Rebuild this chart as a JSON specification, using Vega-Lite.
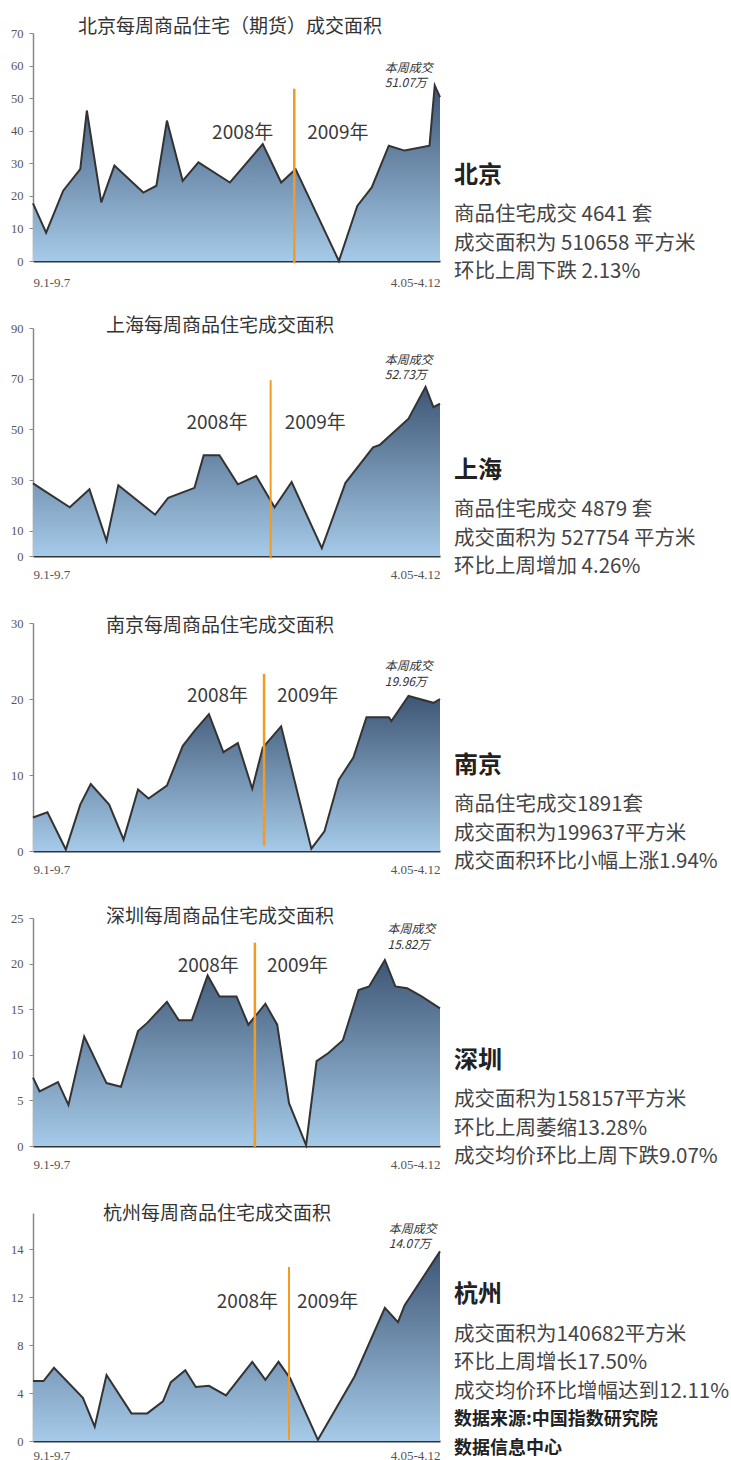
{
  "$schema": "https://vega.github.io/schema/vega-lite/v6.json",
  "background": "white",
  "padding": {"left": 0, "top": 18, "right": 0, "bottom": 0},
  "spacing": 10,
  "config": {
    "view": {"stroke": null},
    "axisX": {"labelExpr": "datum.value == 0 ? '9.1-9.7' : '4.05-4.12'", "labelFlush": true, "ticks": false, "domainColor": "#333", "domainWidth": 2, "labelPadding": 12, "labelFontSize": 13, "labelColor": "#555", "labelFont": "Liberation Serif", "grid": false, "title": null, "labelOverlap": false},
    "axisY": {"domainColor": "#888", "domainWidth": 1.5, "ticks": true, "tickSize": 4, "tickColor": "#888", "labelPadding": 6, "labelFont": "Liberation Serif", "labelFontSize": 12.5, "labelColor": "#555", "grid": false, "title": null, "minExtent": 33, "maxExtent": 33, "labelOverlap": false},
    "area": {"opacity": 1},
    "text": {"font": "Noto Sans CJK SC"}
  },
  "datasets": {
    "bj": [
      {"week": 0, "area": 17.7}, {"week": 1.0, "area": 8.7}, {"week": 2.3, "area": 21.6}, {"week": 3.6, "area": 28.2},
      {"week": 4.1, "area": 46.2}, {"week": 5.2, "area": 18.0}, {"week": 6.2, "area": 29.3}, {"week": 8.4, "area": 21.0},
      {"week": 9.4, "area": 23.1}, {"week": 10.2, "area": 43.1}, {"week": 11.4, "area": 24.6}, {"week": 12.6, "area": 30.3},
      {"week": 15.0, "area": 24.1}, {"week": 17.5, "area": 35.9}, {"week": 18.9, "area": 24.1}, {"week": 20.0, "area": 28.2},
      {"week": 23.3, "area": 0}, {"week": 24.7, "area": 16.9}, {"week": 25.8, "area": 22.6}, {"week": 27.1, "area": 35.4},
      {"week": 28.3, "area": 33.9}, {"week": 30.2, "area": 35.4}, {"week": 30.6, "area": 53.9}, {"week": 31, "area": 50.3}
    ],
    "sh": [
      {"week": 0, "area": 28.7}, {"week": 2.8, "area": 19.2}, {"week": 4.3, "area": 26.3}, {"week": 5.6, "area": 6.0},
      {"week": 6.5, "area": 27.9}, {"week": 9.3, "area": 16.3}, {"week": 10.3, "area": 23.0}, {"week": 12.3, "area": 26.9},
      {"week": 13.0, "area": 39.8}, {"week": 14.2, "area": 39.8}, {"week": 15.6, "area": 28.3}, {"week": 17.0, "area": 31.6},
      {"week": 18.4, "area": 19.2}, {"week": 19.7, "area": 29.2}, {"week": 22.0, "area": 3.1}, {"week": 23.8, "area": 28.9},
      {"week": 25.9, "area": 42.9}, {"week": 26.4, "area": 43.8}, {"week": 28.6, "area": 54.2}, {"week": 29.9, "area": 66.8},
      {"week": 30.5, "area": 58.8}, {"week": 31, "area": 60.1}
    ],
    "nj": [
      {"week": 0, "area": 4.4}, {"week": 1.1, "area": 5.1}, {"week": 2.5, "area": 0.2}, {"week": 3.6, "area": 6.1},
      {"week": 4.4, "area": 8.8}, {"week": 5.8, "area": 6.1}, {"week": 6.9, "area": 1.5}, {"week": 8.0, "area": 8.1},
      {"week": 8.8, "area": 6.9}, {"week": 10.2, "area": 8.6}, {"week": 11.4, "area": 13.8}, {"week": 12.3, "area": 15.8},
      {"week": 13.4, "area": 18.0}, {"week": 14.5, "area": 13.0}, {"week": 15.6, "area": 14.2}, {"week": 16.7, "area": 8.2},
      {"week": 17.5, "area": 13.6}, {"week": 18.9, "area": 16.4}, {"week": 21.2, "area": 0.3}, {"week": 22.2, "area": 2.6},
      {"week": 23.3, "area": 9.4}, {"week": 24.4, "area": 12.3}, {"week": 25.4, "area": 17.6}, {"week": 27.1, "area": 17.6},
      {"week": 27.3, "area": 17.1}, {"week": 28.6, "area": 20.4}, {"week": 30.5, "area": 19.5}, {"week": 31, "area": 20.0}
    ],
    "sz": [
      {"week": 0, "area": 7.5}, {"week": 0.5, "area": 6.0}, {"week": 1.9, "area": 7.0}, {"week": 2.7, "area": 4.5},
      {"week": 3.9, "area": 12.0}, {"week": 5.6, "area": 6.9}, {"week": 6.7, "area": 6.5}, {"week": 8.0, "area": 12.6},
      {"week": 8.7, "area": 13.5}, {"week": 10.2, "area": 15.8}, {"week": 11.1, "area": 13.8}, {"week": 12.1, "area": 13.8},
      {"week": 13.3, "area": 18.7}, {"week": 14.2, "area": 16.4}, {"week": 15.5, "area": 16.4}, {"week": 16.4, "area": 13.3},
      {"week": 17.7, "area": 15.6}, {"week": 18.6, "area": 13.3}, {"week": 19.5, "area": 4.7}, {"week": 20.8, "area": 0.1},
      {"week": 21.6, "area": 9.3}, {"week": 22.5, "area": 10.2}, {"week": 23.6, "area": 11.6}, {"week": 24.8, "area": 17.1},
      {"week": 25.6, "area": 17.5}, {"week": 26.8, "area": 20.4}, {"week": 27.6, "area": 17.5}, {"week": 28.5, "area": 17.3},
      {"week": 29.6, "area": 16.4}, {"week": 31, "area": 15.1}
    ],
    "hz": [
      {"week": 0, "area": 5.0}, {"week": 0.8, "area": 5.0}, {"week": 1.6, "area": 6.1}, {"week": 3.8, "area": 3.6},
      {"week": 4.7, "area": 1.2}, {"week": 5.6, "area": 5.5}, {"week": 7.5, "area": 2.3}, {"week": 8.7, "area": 2.3},
      {"week": 9.9, "area": 3.3}, {"week": 10.5, "area": 4.9}, {"week": 11.6, "area": 5.9}, {"week": 12.4, "area": 4.5},
      {"week": 13.4, "area": 4.6}, {"week": 14.7, "area": 3.8}, {"week": 16.7, "area": 6.6}, {"week": 17.7, "area": 5.1},
      {"week": 18.7, "area": 6.6}, {"week": 19.6, "area": 5.2}, {"week": 21.7, "area": 0.1}, {"week": 24.5, "area": 5.4},
      {"week": 26.8, "area": 11.1}, {"week": 27.8, "area": 9.9}, {"week": 28.3, "area": 11.3}, {"week": 31, "area": 15.8}
    ],
    "bj_text": [
      {"role": "city", "line": 0, "text": "北京"},
      {"role": "info", "line": 1, "text": "商品住宅成交 4641 套"},
      {"role": "info", "line": 2, "text": "成交面积为 510658 平方米"},
      {"role": "info", "line": 3, "text": "环比上周下跌 2.13%"}
    ],
    "sh_text": [
      {"role": "city", "line": 0, "text": "上海"},
      {"role": "info", "line": 1, "text": "商品住宅成交 4879 套"},
      {"role": "info", "line": 2, "text": "成交面积为 527754 平方米"},
      {"role": "info", "line": 3, "text": "环比上周增加 4.26%"}
    ],
    "nj_text": [
      {"role": "city", "line": 0, "text": "南京"},
      {"role": "info", "line": 1, "text": "商品住宅成交1891套"},
      {"role": "info", "line": 2, "text": "成交面积为199637平方米"},
      {"role": "info", "line": 3, "text": "成交面积环比小幅上涨1.94%"}
    ],
    "sz_text": [
      {"role": "city", "line": 0, "text": "深圳"},
      {"role": "info", "line": 1, "text": "成交面积为158157平方米"},
      {"role": "info", "line": 2, "text": "环比上周萎缩13.28%"},
      {"role": "info", "line": 3, "text": "成交均价环比上周下跌9.07%"}
    ],
    "hz_text": [
      {"role": "city", "line": 0, "text": "杭州"},
      {"role": "info", "line": 1, "text": "成交面积为140682平方米"},
      {"role": "info", "line": 2, "text": "环比上周增长17.50%"},
      {"role": "info", "line": 3, "text": "成交均价环比增幅达到12.11%"},
      {"role": "source", "line": 4, "text": "数据来源:中国指数研究院"},
      {"role": "source", "line": 5, "text": "数据信息中心"}
    ]
  },
  "hconcat": [
    {
      "bounds": "flush",
      "spacing": 67,
      "vconcat": [
        {
          "width": 407, "height": 228,
          "layer": [
            {"data": {"name": "bj"}, "mark": {"type": "area", "opacity": 1, "color": {"gradient": "linear", "x1": 0, "y1": 1, "x2": 0, "y2": 0, "stops": [{"offset": 0, "color": "#a6cae9"}, {"offset": 1, "color": "#3e5675"}]}, "line": {"color": "#333", "strokeWidth": 2}},
             "encoding": {"x": {"field": "week", "type": "quantitative", "scale": {"domain": [0, 31], "nice": false, "zero": false}, "axis": {"values": [0, 31], "labelPadding": 15}},
                          "y": {"field": "area", "type": "quantitative", "scale": {"domain": [0, 70], "nice": false}, "axis": {"values": [0, 10, 20, 30, 40, 50, 60, 70], "labelOverlap": false, "tickCount": 8}}}},
            {"data": {"values": [{}]}, "mark": {"type": "rule", "color": "#f39a21", "strokeWidth": 2.5}, "encoding": {"x": {"datum": 19.9}, "y": {"datum": 52.9}, "y2": {"datum": -0.7}}},
            {"data": {"values": [{}]}, "mark": {"type": "text", "text": "北京每周商品住宅（期货）成交面积", "align": "center", "baseline": "middle", "dx": -6.5, "dy": -6, "fontSize": 19, "color": "#333"}, "encoding": {"x": {"datum": 15.5}, "y": {"datum": 70}}},
            {"data": {"values": [{}]}, "mark": {"type": "text", "text": "2008年", "align": "right", "baseline": "middle", "dx": -21, "fontSize": 19, "color": "#3a3a3a"}, "encoding": {"x": {"datum": 19.9}, "y": {"datum": 39.3}}},
            {"data": {"values": [{}]}, "mark": {"type": "text", "text": "2009年", "align": "left", "baseline": "middle", "dx": 13, "fontSize": 19, "color": "#3a3a3a"}, "encoding": {"x": {"datum": 19.9}, "y": {"datum": 39.3}}},
            {"data": {"values": [{}]}, "mark": {"type": "text", "text": ["本周成交", "51.07万"], "align": "left", "baseline": "top", "fontSize": 12, "fontStyle": "italic", "lineHeight": 15, "color": "#333"}, "encoding": {"x": {"datum": 26.8}, "y": {"datum": 60.8}}}
          ]
        },
        {
          "width": 407, "height": 228,
          "layer": [
            {"data": {"name": "sh"}, "mark": {"type": "area", "opacity": 1, "color": {"gradient": "linear", "x1": 0, "y1": 1, "x2": 0, "y2": 0, "stops": [{"offset": 0, "color": "#a6cae9"}, {"offset": 1, "color": "#3e5675"}]}, "line": {"color": "#333", "strokeWidth": 2}},
             "encoding": {"x": {"field": "week", "type": "quantitative", "scale": {"domain": [0, 31], "nice": false, "zero": false}, "axis": {"values": [0, 31]}},
                          "y": {"field": "area", "type": "quantitative", "scale": {"domain": [0, 90], "nice": false}, "axis": {"values": [0, 10, 30, 50, 70, 90]}}}},
            {"data": {"values": [{}]}, "mark": {"type": "rule", "color": "#f39a21", "strokeWidth": 2}, "encoding": {"x": {"datum": 18.1}, "y": {"datum": 69.4}, "y2": {"datum": -0.9}}},
            {"data": {"values": [{}]}, "mark": {"type": "text", "text": "上海每周商品住宅成交面积", "align": "center", "baseline": "middle", "dx": -16.5, "dy": -2, "fontSize": 19, "color": "#333"}, "encoding": {"x": {"datum": 15.5}, "y": {"datum": 90}}},
            {"data": {"values": [{}]}, "mark": {"type": "text", "text": "2008年", "align": "right", "baseline": "middle", "dx": -23, "fontSize": 19, "color": "#3a3a3a"}, "encoding": {"x": {"datum": 18.1}, "y": {"datum": 52.6}}},
            {"data": {"values": [{}]}, "mark": {"type": "text", "text": "2009年", "align": "left", "baseline": "middle", "dx": 14, "fontSize": 19, "color": "#3a3a3a"}, "encoding": {"x": {"datum": 18.1}, "y": {"datum": 52.6}}},
            {"data": {"values": [{}]}, "mark": {"type": "text", "text": ["本周成交", "52.73万"], "align": "left", "baseline": "top", "fontSize": 12, "fontStyle": "italic", "lineHeight": 15, "color": "#333"}, "encoding": {"x": {"datum": 26.8}, "y": {"datum": 79.5}}}
          ]
        },
        {
          "width": 407, "height": 228,
          "layer": [
            {"data": {"name": "nj"}, "mark": {"type": "area", "opacity": 1, "color": {"gradient": "linear", "x1": 0, "y1": 1, "x2": 0, "y2": 0, "stops": [{"offset": 0, "color": "#a6cae9"}, {"offset": 1, "color": "#3e5675"}]}, "line": {"color": "#333", "strokeWidth": 2}},
             "encoding": {"x": {"field": "week", "type": "quantitative", "scale": {"domain": [0, 31], "nice": false, "zero": false}, "axis": {"values": [0, 31]}},
                          "y": {"field": "area", "type": "quantitative", "scale": {"domain": [0, 30], "nice": false}, "axis": {"values": [0, 10, 20, 30]}}}},
            {"data": {"values": [{}]}, "mark": {"type": "rule", "color": "#f39a21", "strokeWidth": 2.5}, "encoding": {"x": {"datum": 17.6}, "y": {"datum": 23.3}, "y2": {"datum": 0.7}}},
            {"data": {"values": [{}]}, "mark": {"type": "text", "text": "南京每周商品住宅成交面积", "align": "center", "baseline": "middle", "dx": -16.5, "dy": 2.5, "fontSize": 19, "color": "#333"}, "encoding": {"x": {"datum": 15.5}, "y": {"datum": 30}}},
            {"data": {"values": [{}]}, "mark": {"type": "text", "text": "2008年", "align": "right", "baseline": "middle", "dx": -16, "fontSize": 19, "color": "#3a3a3a"}, "encoding": {"x": {"datum": 17.6}, "y": {"datum": 20.4}}},
            {"data": {"values": [{}]}, "mark": {"type": "text", "text": "2009年", "align": "left", "baseline": "middle", "dx": 13, "fontSize": 19, "color": "#3a3a3a"}, "encoding": {"x": {"datum": 17.6}, "y": {"datum": 20.4}}},
            {"data": {"values": [{}]}, "mark": {"type": "text", "text": ["本周成交", "19.96万"], "align": "left", "baseline": "top", "fontSize": 12, "fontStyle": "italic", "lineHeight": 16, "color": "#333"}, "encoding": {"x": {"datum": 26.8}, "y": {"datum": 25.0}}}
          ]
        },
        {
          "width": 407, "height": 228,
          "layer": [
            {"data": {"name": "sz"}, "mark": {"type": "area", "opacity": 1, "color": {"gradient": "linear", "x1": 0, "y1": 1, "x2": 0, "y2": 0, "stops": [{"offset": 0, "color": "#a6cae9"}, {"offset": 1, "color": "#3e5675"}]}, "line": {"color": "#333", "strokeWidth": 2}},
             "encoding": {"x": {"field": "week", "type": "quantitative", "scale": {"domain": [0, 31], "nice": false, "zero": false}, "axis": {"values": [0, 31]}},
                          "y": {"field": "area", "type": "quantitative", "scale": {"domain": [0, 25], "nice": false}, "axis": {"values": [0, 5, 10, 15, 20, 25]}}}},
            {"data": {"values": [{}]}, "mark": {"type": "rule", "color": "#f39a21", "strokeWidth": 2.5}, "encoding": {"x": {"datum": 16.9}, "y": {"datum": 22.3}, "y2": {"datum": -0.1}}},
            {"data": {"values": [{}]}, "mark": {"type": "text", "text": "深圳每周商品住宅成交面积", "align": "center", "baseline": "middle", "dx": -16.5, "dy": -1.5, "fontSize": 19, "color": "#333"}, "encoding": {"x": {"datum": 15.5}, "y": {"datum": 25}}},
            {"data": {"values": [{}]}, "mark": {"type": "text", "text": "2008年", "align": "right", "baseline": "middle", "dx": -16, "fontSize": 19, "color": "#3a3a3a"}, "encoding": {"x": {"datum": 16.9}, "y": {"datum": 19.7}}},
            {"data": {"values": [{}]}, "mark": {"type": "text", "text": "2009年", "align": "left", "baseline": "middle", "dx": 12, "fontSize": 19, "color": "#3a3a3a"}, "encoding": {"x": {"datum": 16.9}, "y": {"datum": 19.7}}},
            {"data": {"values": [{}]}, "mark": {"type": "text", "text": ["本周成交", "15.82万"], "align": "left", "baseline": "top", "fontSize": 12, "fontStyle": "italic", "lineHeight": 16, "color": "#333"}, "encoding": {"x": {"datum": 27.0}, "y": {"datum": 24.3}}}
          ]
        },
        {
          "width": 407, "height": 228,
          "layer": [
            {"data": {"name": "hz"}, "mark": {"type": "area", "opacity": 1, "color": {"gradient": "linear", "x1": 0, "y1": 1, "x2": 0, "y2": 0, "stops": [{"offset": 0, "color": "#a6cae9"}, {"offset": 1, "color": "#3e5675"}]}, "line": {"color": "#333", "strokeWidth": 2}},
             "encoding": {"x": {"field": "week", "type": "quantitative", "scale": {"domain": [0, 31], "nice": false, "zero": false}, "axis": {"values": [0, 31], "labelPadding": 8}},
                          "y": {"field": "area", "type": "quantitative", "scale": {"domain": [0, 19], "nice": false}, "axis": {"values": [0, 4, 8, 12, 16], "labelExpr": "datum.value == 16 ? '14' : datum.label"}}}},
            {"data": {"values": [{}]}, "mark": {"type": "rule", "color": "#f39a21", "strokeWidth": 2}, "encoding": {"x": {"datum": 19.5}, "y": {"datum": 14.5}, "y2": {"datum": 0.1}}},
            {"data": {"values": [{}]}, "mark": {"type": "text", "text": "杭州每周商品住宅成交面积", "align": "center", "baseline": "middle", "dx": -19.5, "dy": 1, "fontSize": 19, "color": "#333"}, "encoding": {"x": {"datum": 15.5}, "y": {"datum": 19}}},
            {"data": {"values": [{}]}, "mark": {"type": "text", "text": "2008年", "align": "right", "baseline": "middle", "dx": -11, "fontSize": 19, "color": "#3a3a3a"}, "encoding": {"x": {"datum": 19.5}, "y": {"datum": 11.6}}},
            {"data": {"values": [{}]}, "mark": {"type": "text", "text": "2009年", "align": "left", "baseline": "middle", "dx": 8, "fontSize": 19, "color": "#3a3a3a"}, "encoding": {"x": {"datum": 19.5}, "y": {"datum": 11.6}}},
            {"data": {"values": [{}]}, "mark": {"type": "text", "text": ["本周成交", "14.07万"], "align": "left", "baseline": "top", "fontSize": 12, "fontStyle": "italic", "lineHeight": 15, "color": "#333"}, "encoding": {"x": {"datum": 27.1}, "y": {"datum": 18.1}}}
          ]
        }
      ]
    },
    {
      "bounds": "flush",
      "spacing": 67,
      "vconcat": [
        {
          "width": 270, "height": 228,
          "data": {"name": "bj_text"},
          "encoding": {"x": {"datum": 0, "type": "quantitative", "scale": {"domain": [0, 1]}, "axis": null},
                       "y": {"field": "line", "type": "quantitative", "scale": {"domain": [-5.4, 2.6], "reverse": true, "nice": false, "zero": false}, "axis": null},
                       "text": {"field": "text"}},
          "layer": [
            {"transform": [{"filter": "datum.role == 'city'"}], "mark": {"type": "text", "align": "left", "baseline": "middle", "dy": -11, "fontSize": 24, "fontWeight": "bold", "color": "#222"}},
            {"transform": [{"filter": "datum.role == 'info'"}], "mark": {"type": "text", "align": "left", "baseline": "middle", "fontSize": 20.5, "color": "#444"}}
          ]
        },
        {
          "width": 270, "height": 228,
          "data": {"name": "sh_text"},
          "encoding": {"x": {"datum": 0, "type": "quantitative", "scale": {"domain": [0, 1]}, "axis": null},
                       "y": {"field": "line", "type": "quantitative", "scale": {"domain": [-5.4, 2.6], "reverse": true, "nice": false, "zero": false}, "axis": null},
                       "text": {"field": "text"}},
          "layer": [
            {"transform": [{"filter": "datum.role == 'city'"}], "mark": {"type": "text", "align": "left", "baseline": "middle", "dy": -11, "fontSize": 24, "fontWeight": "bold", "color": "#222"}},
            {"transform": [{"filter": "datum.role == 'info'"}], "mark": {"type": "text", "align": "left", "baseline": "middle", "fontSize": 20.5, "color": "#444"}}
          ]
        },
        {
          "width": 270, "height": 228,
          "data": {"name": "nj_text"},
          "encoding": {"x": {"datum": 0, "type": "quantitative", "scale": {"domain": [0, 1]}, "axis": null},
                       "y": {"field": "line", "type": "quantitative", "scale": {"domain": [-5.4, 2.6], "reverse": true, "nice": false, "zero": false}, "axis": null},
                       "text": {"field": "text"}},
          "layer": [
            {"transform": [{"filter": "datum.role == 'city'"}], "mark": {"type": "text", "align": "left", "baseline": "middle", "dy": -11, "fontSize": 24, "fontWeight": "bold", "color": "#222"}},
            {"transform": [{"filter": "datum.role == 'info'"}], "mark": {"type": "text", "align": "left", "baseline": "middle", "fontSize": 20.5, "color": "#444"}}
          ]
        },
        {
          "width": 270, "height": 228,
          "data": {"name": "sz_text"},
          "encoding": {"x": {"datum": 0, "type": "quantitative", "scale": {"domain": [0, 1]}, "axis": null},
                       "y": {"field": "line", "type": "quantitative", "scale": {"domain": [-5.4, 2.6], "reverse": true, "nice": false, "zero": false}, "axis": null},
                       "text": {"field": "text"}},
          "layer": [
            {"transform": [{"filter": "datum.role == 'city'"}], "mark": {"type": "text", "align": "left", "baseline": "middle", "dy": -11, "fontSize": 24, "fontWeight": "bold", "color": "#222"}},
            {"transform": [{"filter": "datum.role == 'info'"}], "mark": {"type": "text", "align": "left", "baseline": "middle", "fontSize": 20.5, "color": "#444"}}
          ]
        },
        {
          "width": 270, "height": 228,
          "data": {"name": "hz_text"},
          "encoding": {"x": {"datum": 0, "type": "quantitative", "scale": {"domain": [0, 1]}, "axis": null},
                       "y": {"field": "line", "type": "quantitative", "scale": {"domain": [-3.28, 4.72], "reverse": true, "nice": false, "zero": false}, "axis": null},
                       "text": {"field": "text"}},
          "layer": [
            {"transform": [{"filter": "datum.role == 'city'"}], "mark": {"type": "text", "align": "left", "baseline": "middle", "dy": -11.5, "fontSize": 24, "fontWeight": "bold", "color": "#222"}},
            {"transform": [{"filter": "datum.role == 'info'"}], "mark": {"type": "text", "align": "left", "baseline": "middle", "fontSize": 20.5, "color": "#444"}},
            {"transform": [{"filter": "datum.role == 'source'"}], "mark": {"type": "text", "align": "left", "baseline": "middle", "fontSize": 18, "fontWeight": "bold", "color": "#222"}}
          ]
        }
      ]
    }
  ]
}
